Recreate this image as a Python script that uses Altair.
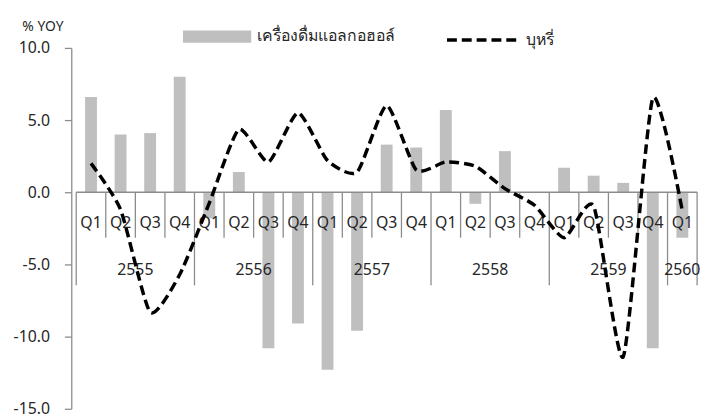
import altair as alt
import pandas as pd

# ---- data ----
quarters = ["Q1", "Q2", "Q3", "Q4"] * 5 + ["Q1"]
years = ["2555", "2556", "2557", "2558", "2559", "2560"]
year_quarters = [4, 4, 4, 4, 4, 1]
alcohol = [6.6, 4.0, 4.1, 8.0, -1.8, 1.4, -10.8, -9.1, -12.3, -9.6, 3.3,
           3.1, 5.7, -0.8, 2.85, 0.0, 1.7, 1.15, 0.65, -10.8, -3.15]
cigarette = [2.0, -1.2, -8.3, -5.7, -0.75, 4.35, 2.1, 5.5, 2.2, 1.4, 6.0,
             1.55, 2.1, 1.8, 0.25, -0.9, -3.15, -0.95, -11.4, 6.5, -1.3]
y_ticks = [-15, -10, -5, 0, 5, 10]
alc_name = "เครื่องดื่มแอลกอฮอล์"
cig_name = "บุหรี่"

FONT = "Noto Sans"
GRAY_AX = "#8c8c8c"
TXT = "#262626"
n = len(quarters)

df = pd.DataFrame({
    "pos": [i + 0.5 for i in range(n)],
    "q": quarters,
    "alc": alcohol,
    "cig": cigarette,
    "s_alc": [alc_name] * n,
    "s_cig": [cig_name] * n,
})

# year groups
starts = []
s = 0
for c in year_quarters:
    starts.append(s)
    s += c
ydf = pd.DataFrame({
    "year": years,
    "mid": [st + c / 2 for st, c in zip(starts, year_quarters)],
})
year_bounds = pd.DataFrame({"b": starts + [n]})
q_bounds = pd.DataFrame({"b": [i for i in range(1, n) if i not in starts]})

xs = alt.Scale(domain=[0, n], nice=False, zero=False)
ys = alt.Scale(domain=[-15, 10], nice=False)

Q_TICK = -3.15   # label band depth (in value units)
Y_TICK = -6.45
Q_LAB = -2.12
Y_LAB = -5.4

bars = alt.Chart(df).mark_bar(size=12).encode(
    x=alt.X("pos:Q", scale=xs, axis=None),
    y=alt.Y("alc:Q", scale=ys, axis=alt.Axis(
        values=y_ticks, format=".1f", grid=False,
        labelExpr="replace(datum.label, '\u2212', '-')",
        domainColor=GRAY_AX, domainWidth=1.3, tickColor=GRAY_AX, tickWidth=1.3,
        tickSize=7, labelPadding=15, labelFont=FONT, labelFontSize=16,
        labelColor=TXT,
        title="% YOY", titleAngle=0, titleAlign="left", titleBaseline="alphabetic",
        titleX=-50, titleY=-18, titleFont=FONT, titleFontSize=14,
        titleFontWeight="normal", titleColor=TXT)),
    y2=alt.datum(0),
    color=alt.Color("s_alc:N", scale=alt.Scale(range=["#bfbfbf"]), legend=alt.Legend(
        title=None, orient="none", legendX=113, legendY=-46, padding=0,
        symbolType="M-1,-0.18H1V0.18H-1Z", symbolSize=4761, symbolStrokeWidth=0,
        symbolOpacity=1, labelOffset=6, labelFont=FONT, labelFontSize=16,
        labelColor=TXT)),
)

axis_line = alt.Chart(pd.DataFrame({"a": [0], "b": [n]})).mark_rule(
    color=GRAY_AX, strokeWidth=1.3).encode(
    x=alt.X("a:Q", scale=xs), x2="b:Q", y=alt.datum(0))

q_ticks = alt.Chart(q_bounds).mark_rule(color=GRAY_AX, strokeWidth=1.3).encode(
    x=alt.X("b:Q", scale=xs), y=alt.datum(0), y2=alt.datum(Q_TICK))

yr_ticks = alt.Chart(year_bounds).mark_rule(color=GRAY_AX, strokeWidth=1.3).encode(
    x=alt.X("b:Q", scale=xs), y=alt.datum(0), y2=alt.datum(Y_TICK))

q_labels = alt.Chart(df).mark_text(
    font=FONT, fontSize=16, color=TXT, baseline="middle").encode(
    x=alt.X("pos:Q", scale=xs), y=alt.datum(Q_LAB), text="q:N")

yr_labels = alt.Chart(ydf).mark_text(
    font=FONT, fontSize=16, color=TXT, baseline="middle").encode(
    x=alt.X("mid:Q", scale=xs), y=alt.datum(Y_LAB), text="year:N")

line = alt.Chart(df).mark_line(
    color="black", strokeWidth=3.5, interpolate="cardinal", tension=0.4).encode(
    x=alt.X("pos:Q", scale=xs),
    y=alt.Y("cig:Q", scale=ys),
    strokeDash=alt.StrokeDash("s_cig:N", scale=alt.Scale(range=[[10, 5]]), legend=alt.Legend(
        title=None, orient="none", legendX=378, legendY=-47, padding=0,
        symbolType="stroke", symbolSize=5476, symbolStrokeWidth=3.5,
        symbolStrokeColor="black", labelOffset=4, labelFont=FONT,
        labelFontSize=16, labelColor=TXT)),
)

chart = alt.layer(bars, axis_line, q_ticks, yr_ticks, q_labels, yr_labels, line).properties(
    width=638, height=365,
    padding={"left": 64, "top": 38, "right": 5, "bottom": 12},
    autosize=alt.AutoSizeParams(type="none"),
).configure_view(stroke=None)

chart.save("out.html", embed_options={"renderer": "svg", "actions": False})
